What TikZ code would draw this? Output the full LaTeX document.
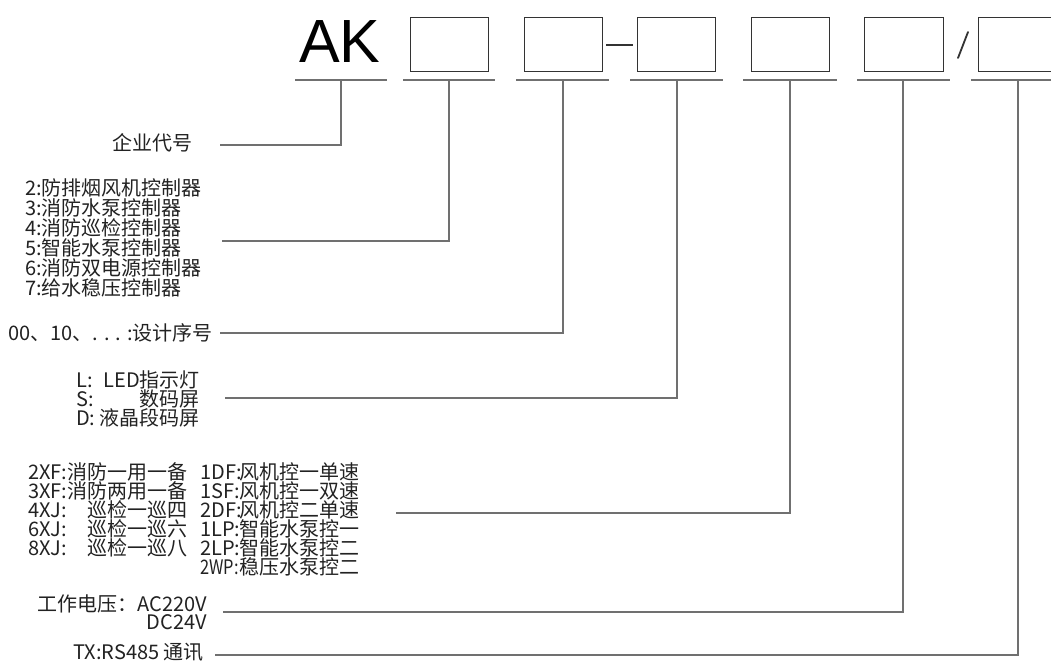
\documentclass[tikz,border=0pt]{standalone}
\usepackage{graphicx}
\usepackage{fontspec}
\setmainfont{Noto Sans CJK SC}
\newfontfamily\akfont{Liberation Sans}
\definecolor{boxc}{HTML}{333333}
\definecolor{linec}{HTML}{707070}
\definecolor{txtc}{HTML}{222222}
\newcommand\myWP{\scalebox{0.82}[1.0]{2WP:}}
\begin{document}
\begin{tikzpicture}[x=1pt,y=-1pt,
  codebox/.style={draw=boxc, line width=1.3pt, minimum width=78pt, minimum height=54pt, inner sep=0pt, anchor=north west},
  uline/.style={draw=linec, line width=1.3pt},
  conn/.style={draw=linec, line width=1.3pt},
  sep/.style={draw=boxc, line width=1.8pt},
  lbl/.style={inner sep=0pt, font=\fontsize{20}{20}\selectfont, text=txtc},
]
\useasboundingbox (0,0) rectangle (1051,662);
\clip (0,0) rectangle (1051,662);

% header
\node[inner sep=0pt, anchor=base west, font=\akfont\fontsize{61}{61}\selectfont, text=black] (ak) at (299,62) {AK};
\node[codebox] (b1) at (410,17) {};
\node[codebox] (b2) at (524,17) {};
\node[codebox] (b3) at (637,17) {};
\node[codebox] (b4) at (751,17) {};
\node[codebox, minimum width=79pt] (b5) at (864,17) {};
\node[codebox] (b6) at (978,17) {};
\draw[sep] ([xshift=3pt]b2.east) -- ([xshift=-4pt]b3.west);
\coordinate (s1) at (958,58);
\coordinate (s2) at (968,32);
\draw[sep, line cap=round] (s1) -- (s2);

% underlines
\draw[uline] (295,80) -- (387,80);
\draw[uline] (403,80) -- (495,80);
\draw[uline] (516,80) -- (609,80);
\draw[uline] (630,80) -- (723,80);
\draw[uline] (743,80) -- (837,80);
\draw[uline] (857,80) -- (950,80);
\draw[uline] (971,80) -- (1060,80);

\coordinate (u0) at (341,80);
\coordinate (u1) at (449,80);
\coordinate (u2) at (563,80);
\coordinate (u3) at (677,80);
\coordinate (u4) at (790,80);
\coordinate (u5) at (903,80);
\coordinate (u6) at (1018,80);

\coordinate (e0) at (220,145);
\coordinate (e1) at (222,241);
\coordinate (e2) at (220,333);
\coordinate (e3) at (225,398);
\coordinate (e4) at (396,513);
\coordinate (e5) at (223,612);
\coordinate (e6) at (215,655);

\draw[conn] (u0) |- (e0);
\draw[conn] (u1) |- (e1);
\draw[conn] (u2) |- (e2);
\draw[conn] (u3) |- (e3);
\draw[conn] (u4) |- (e4);
\draw[conn] (u5) |- (e5);
\draw[conn] (u6) |- (e6);

% labels
\node[lbl, anchor=base east] (n0) at (193,150.6) {企业代号};

\foreach \t [count=\i] in {2:防排烟风机控制器, 3:消防水泵控制器, 4:消防巡检控制器, 5:智能水泵控制器, 6:消防双电源控制器, 7:给水稳压控制器}
  \node[lbl, anchor=base west] (p\i) at (25,{175.6+20*\i}) {\t};

\node[lbl, anchor=base east] (n2) at (213,340.6) {00、10、. . . :设计序号};

\foreach \a/\b [count=\i] in {L:/LED指示灯, S:/数码屏, D:/液晶段码屏} {
  \node[lbl, anchor=base west] (da\i) at (76,{368.6+19*\i}) {\a};
  \node[lbl, anchor=base east] (db\i) at (200,{368.6+19*\i}) {\b};
}

\foreach \a/\b [count=\i] in {2XF:/消防一用一备, 3XF:/消防两用一备, 4XJ:/巡检一巡四, 6XJ:/巡检一巡六, 8XJ:/巡检一巡八} {
  \node[lbl, anchor=base west] (ta\i) at (28,{460.6+19*\i}) {\a};
  \node[lbl, anchor=base east] (tb\i) at (188,{460.6+19*\i}) {\b};
}
\foreach \a/\b [count=\i] in {1DF:/风机控一单速, 1SF:/风机控一双速, 2DF:/风机控二单速, 1LP:/智能水泵控一, 2LP:/智能水泵控二} {
  \node[lbl, anchor=base west] (tc\i) at (200,{460.6+19*\i}) {\a};
  \node[lbl, anchor=base east] (td\i) at (360,{460.6+19*\i}) {\b};
}
\node[lbl, anchor=base west] (tc6) at (200,574.6) {\myWP};
\node[lbl, anchor=base east] (td6) at (360,574.6) {稳压水泵控二};

\node[lbl, anchor=base east] (v1) at (207,611.6) {工作电压：AC220V};
\node[lbl, anchor=base east] (v2) at (207,629.6) {DC24V};

\node[lbl, anchor=base east] (tx) at (204,659.6) {TX:RS485 通讯};
\end{tikzpicture}
\end{document}
